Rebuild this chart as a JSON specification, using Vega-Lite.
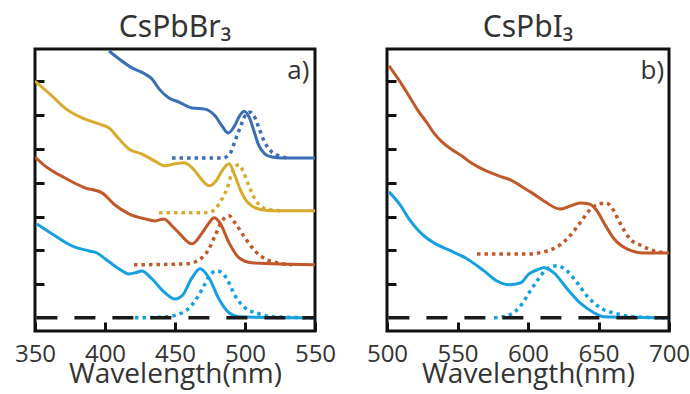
{
  "$schema": "https://vega.github.io/schema/vega-lite/v6.json",
  "padding": {"left": 12, "top": 11, "right": 5, "bottom": 0},
  "background": "white",
  "bounds": "flush",
  "config": {
    "view": {"stroke": "#111", "strokeWidth": 3},
    "font": "Open Sans",
    "title": {"fontSize": 30, "font": "Noto Sans", "fontWeight": "normal", "color": "#333", "offset": 6, "baseline": "alphabetic"},
    "axis": {"grid": false, "domain": false, "tickColor": "#111", "tickWidth": 3, "labelColor": "#333", "titleColor": "#333", "labelFontSize": 24, "titleFontSize": 28, "titleFontWeight": "normal", "labelFont": "Open Sans", "titleFont": "Open Sans", "labelFlush": false, "labelOverlap": false}
  },
  "datasets": {
    "pts": [
      {"p":"a","s":"b1","k":"abs","x":402.9,"y":7.90},{"p":"a","s":"b1","k":"abs","x":419.3,"y":7.40},{"p":"a","s":"b1","k":"abs","x":428.6,"y":7.22},{"p":"a","s":"b1","k":"abs","x":433.6,"y":7.07},{"p":"a","s":"b1","k":"abs","x":438.6,"y":6.78},{"p":"a","s":"b1","k":"abs","x":445.7,"y":6.51},{"p":"a","s":"b1","k":"abs","x":452.9,"y":6.39},{"p":"a","s":"b1","k":"abs","x":462.1,"y":6.21},{"p":"a","s":"b1","k":"abs","x":471.4,"y":6.18},{"p":"a","s":"b1","k":"abs","x":478.6,"y":5.98},{"p":"a","s":"b1","k":"abs","x":483.6,"y":5.68},{"p":"a","s":"b1","k":"abs","x":487.9,"y":5.47},{"p":"a","s":"b1","k":"abs","x":492.9,"y":5.71},{"p":"a","s":"b1","k":"abs","x":495.7,"y":5.95},{"p":"a","s":"b1","k":"abs","x":499.3,"y":6.12},{"p":"a","s":"b1","k":"abs","x":502.9,"y":5.95},{"p":"a","s":"b1","k":"abs","x":506.4,"y":5.53},{"p":"a","s":"b1","k":"abs","x":510.0,"y":5.09},{"p":"a","s":"b1","k":"abs","x":514.3,"y":4.85},{"p":"a","s":"b1","k":"abs","x":519.3,"y":4.76},{"p":"a","s":"b1","k":"abs","x":526.4,"y":4.73},{"p":"a","s":"b1","k":"abs","x":550,"y":4.73},
      {"p":"a","s":"b1","k":"pl","x":447.9,"y":4.73},{"p":"a","s":"b1","k":"pl","x":483.6,"y":4.73},{"p":"a","s":"b1","k":"pl","x":488.6,"y":4.82},{"p":"a","s":"b1","k":"pl","x":492.9,"y":5.24},{"p":"a","s":"b1","k":"pl","x":496.4,"y":5.62},{"p":"a","s":"b1","k":"pl","x":500.0,"y":5.98},{"p":"a","s":"b1","k":"pl","x":503.6,"y":6.09},{"p":"a","s":"b1","k":"pl","x":506.4,"y":5.98},{"p":"a","s":"b1","k":"pl","x":510.0,"y":5.62},{"p":"a","s":"b1","k":"pl","x":513.6,"y":5.24},{"p":"a","s":"b1","k":"pl","x":517.1,"y":5.00},{"p":"a","s":"b1","k":"pl","x":522.9,"y":4.82},{"p":"a","s":"b1","k":"pl","x":531.4,"y":4.73},
      {"p":"a","s":"g","k":"abs","x":350,"y":7.01},{"p":"a","s":"g","k":"abs","x":362.1,"y":6.57},{"p":"a","s":"g","k":"abs","x":371.4,"y":6.21},{"p":"a","s":"g","k":"abs","x":383.6,"y":5.92},{"p":"a","s":"g","k":"abs","x":395.7,"y":5.74},{"p":"a","s":"g","k":"abs","x":402.9,"y":5.62},{"p":"a","s":"g","k":"abs","x":410.0,"y":5.30},{"p":"a","s":"g","k":"abs","x":417.1,"y":5.00},{"p":"a","s":"g","k":"abs","x":426.4,"y":4.85},{"p":"a","s":"g","k":"abs","x":435.7,"y":4.64},{"p":"a","s":"g","k":"abs","x":442.9,"y":4.50},{"p":"a","s":"g","k":"abs","x":450.0,"y":4.56},{"p":"a","s":"g","k":"abs","x":456.4,"y":4.59},{"p":"a","s":"g","k":"abs","x":464.3,"y":4.35},{"p":"a","s":"g","k":"abs","x":469.3,"y":4.08},{"p":"a","s":"g","k":"abs","x":474.3,"y":3.91},{"p":"a","s":"g","k":"abs","x":479.3,"y":4.05},{"p":"a","s":"g","k":"abs","x":483.6,"y":4.35},{"p":"a","s":"g","k":"abs","x":488.6,"y":4.56},{"p":"a","s":"g","k":"abs","x":492.9,"y":4.20},{"p":"a","s":"g","k":"abs","x":496.4,"y":3.82},{"p":"a","s":"g","k":"abs","x":500.0,"y":3.52},{"p":"a","s":"g","k":"abs","x":505.0,"y":3.31},{"p":"a","s":"g","k":"abs","x":512.1,"y":3.20},{"p":"a","s":"g","k":"abs","x":519.3,"y":3.17},{"p":"a","s":"g","k":"abs","x":550,"y":3.17},
      {"p":"a","s":"g","k":"pl","x":438.6,"y":3.11},{"p":"a","s":"g","k":"pl","x":472.9,"y":3.11},{"p":"a","s":"g","k":"pl","x":478.6,"y":3.22},{"p":"a","s":"g","k":"pl","x":483.6,"y":3.52},{"p":"a","s":"g","k":"pl","x":487.1,"y":3.82},{"p":"a","s":"g","k":"pl","x":490.0,"y":4.20},{"p":"a","s":"g","k":"pl","x":492.9,"y":4.47},{"p":"a","s":"g","k":"pl","x":495.7,"y":4.53},{"p":"a","s":"g","k":"pl","x":498.6,"y":4.35},{"p":"a","s":"g","k":"pl","x":501.4,"y":4.05},{"p":"a","s":"g","k":"pl","x":504.3,"y":3.76},{"p":"a","s":"g","k":"pl","x":507.9,"y":3.46},{"p":"a","s":"g","k":"pl","x":512.1,"y":3.28},{"p":"a","s":"g","k":"pl","x":517.9,"y":3.20},{"p":"a","s":"g","k":"pl","x":526.4,"y":3.17},
      {"p":"a","s":"o","k":"abs","x":350,"y":4.76},{"p":"a","s":"o","k":"abs","x":357.1,"y":4.50},{"p":"a","s":"o","k":"abs","x":371.4,"y":4.14},{"p":"a","s":"o","k":"abs","x":385.7,"y":3.85},{"p":"a","s":"o","k":"abs","x":397.9,"y":3.70},{"p":"a","s":"o","k":"abs","x":407.1,"y":3.34},{"p":"a","s":"o","k":"abs","x":417.1,"y":3.08},{"p":"a","s":"o","k":"abs","x":428.6,"y":2.93},{"p":"a","s":"o","k":"abs","x":435.7,"y":2.87},{"p":"a","s":"o","k":"abs","x":442.1,"y":2.93},{"p":"a","s":"o","k":"abs","x":447.9,"y":2.72},{"p":"a","s":"o","k":"abs","x":452.9,"y":2.51},{"p":"a","s":"o","k":"abs","x":462.1,"y":2.19},{"p":"a","s":"o","k":"abs","x":469.3,"y":2.51},{"p":"a","s":"o","k":"abs","x":474.3,"y":2.81},{"p":"a","s":"o","k":"abs","x":477.9,"y":2.96},{"p":"a","s":"o","k":"abs","x":482.1,"y":2.81},{"p":"a","s":"o","k":"abs","x":488.6,"y":2.22},{"p":"a","s":"o","k":"abs","x":495.7,"y":1.78},{"p":"a","s":"o","k":"abs","x":505.0,"y":1.63},{"p":"a","s":"o","k":"abs","x":519.3,"y":1.60},{"p":"a","s":"o","k":"abs","x":550,"y":1.57},
      {"p":"a","s":"o","k":"pl","x":420.7,"y":1.57},{"p":"a","s":"o","k":"pl","x":458.6,"y":1.60},{"p":"a","s":"o","k":"pl","x":469.3,"y":1.78},{"p":"a","s":"o","k":"pl","x":474.3,"y":2.04},{"p":"a","s":"o","k":"pl","x":478.6,"y":2.43},{"p":"a","s":"o","k":"pl","x":483.6,"y":2.87},{"p":"a","s":"o","k":"pl","x":488.6,"y":3.02},{"p":"a","s":"o","k":"pl","x":492.9,"y":2.81},{"p":"a","s":"o","k":"pl","x":500.0,"y":2.37},{"p":"a","s":"o","k":"pl","x":507.1,"y":1.98},{"p":"a","s":"o","k":"pl","x":514.3,"y":1.75},{"p":"a","s":"o","k":"pl","x":522.9,"y":1.63},{"p":"a","s":"o","k":"pl","x":533.6,"y":1.57},
      {"p":"a","s":"c","k":"abs","x":351.4,"y":2.78},{"p":"a","s":"c","k":"abs","x":362.1,"y":2.49},{"p":"a","s":"c","k":"abs","x":376.4,"y":2.13},{"p":"a","s":"c","k":"abs","x":388.6,"y":1.98},{"p":"a","s":"c","k":"abs","x":394.3,"y":1.92},{"p":"a","s":"c","k":"abs","x":400.0,"y":1.75},{"p":"a","s":"c","k":"abs","x":410.0,"y":1.45},{"p":"a","s":"c","k":"abs","x":417.1,"y":1.30},{"p":"a","s":"c","k":"abs","x":421.4,"y":1.33},{"p":"a","s":"c","k":"abs","x":426.4,"y":1.39},{"p":"a","s":"c","k":"abs","x":433.6,"y":1.15},{"p":"a","s":"c","k":"abs","x":442.9,"y":0.74},{"p":"a","s":"c","k":"abs","x":450.0,"y":0.56},{"p":"a","s":"c","k":"abs","x":455.0,"y":0.65},{"p":"a","s":"c","k":"abs","x":462.1,"y":1.18},{"p":"a","s":"c","k":"abs","x":467.9,"y":1.45},{"p":"a","s":"c","k":"abs","x":474.3,"y":1.18},{"p":"a","s":"c","k":"abs","x":481.4,"y":0.56},{"p":"a","s":"c","k":"abs","x":488.6,"y":0.15},{"p":"a","s":"c","k":"abs","x":495.7,"y":0.03},{"p":"a","s":"c","k":"abs","x":550,"y":0},
      {"p":"a","s":"c","k":"pl","x":421.4,"y":0},{"p":"a","s":"c","k":"pl","x":444.3,"y":0.03},{"p":"a","s":"c","k":"pl","x":451.4,"y":0.09},{"p":"a","s":"c","k":"pl","x":458.6,"y":0.24},{"p":"a","s":"c","k":"pl","x":464.3,"y":0.50},{"p":"a","s":"c","k":"pl","x":470.7,"y":0.95},{"p":"a","s":"c","k":"pl","x":475.0,"y":1.27},{"p":"a","s":"c","k":"pl","x":480.0,"y":1.39},{"p":"a","s":"c","k":"pl","x":483.6,"y":1.33},{"p":"a","s":"c","k":"pl","x":487.1,"y":1.15},{"p":"a","s":"c","k":"pl","x":492.9,"y":0.65},{"p":"a","s":"c","k":"pl","x":500.0,"y":0.30},{"p":"a","s":"c","k":"pl","x":510.0,"y":0.12},{"p":"a","s":"c","k":"pl","x":519.3,"y":0.03},{"p":"a","s":"c","k":"pl","x":550,"y":0},
      {"p":"a","s":"k","k":"base","x":351,"y":0},{"p":"a","s":"k","k":"base","x":550,"y":0},
      {"p":"b","s":"o","k":"abs","x":501.4,"y":7.46},{"p":"b","s":"o","k":"abs","x":509.9,"y":6.95},{"p":"b","s":"o","k":"abs","x":515.6,"y":6.57},{"p":"b","s":"o","k":"abs","x":521.3,"y":6.18},{"p":"b","s":"o","k":"abs","x":528.4,"y":5.77},{"p":"b","s":"o","k":"abs","x":533.3,"y":5.47},{"p":"b","s":"o","k":"abs","x":539.0,"y":5.21},{"p":"b","s":"o","k":"abs","x":545.4,"y":5.00},{"p":"b","s":"o","k":"abs","x":553.2,"y":4.79},{"p":"b","s":"o","k":"abs","x":559.6,"y":4.59},{"p":"b","s":"o","k":"abs","x":567.4,"y":4.41},{"p":"b","s":"o","k":"abs","x":573.8,"y":4.29},{"p":"b","s":"o","k":"abs","x":581.6,"y":4.17},{"p":"b","s":"o","k":"abs","x":587.9,"y":4.08},{"p":"b","s":"o","k":"abs","x":595.7,"y":3.88},{"p":"b","s":"o","k":"abs","x":602.8,"y":3.70},{"p":"b","s":"o","k":"abs","x":611.3,"y":3.46},{"p":"b","s":"o","k":"abs","x":622.7,"y":3.22},{"p":"b","s":"o","k":"abs","x":629.8,"y":3.31},{"p":"b","s":"o","k":"abs","x":636.9,"y":3.40},{"p":"b","s":"o","k":"abs","x":643.3,"y":3.37},{"p":"b","s":"o","k":"abs","x":648.9,"y":3.17},{"p":"b","s":"o","k":"abs","x":653.9,"y":2.81},{"p":"b","s":"o","k":"abs","x":661.0,"y":2.34},{"p":"b","s":"o","k":"abs","x":670.2,"y":2.04},{"p":"b","s":"o","k":"abs","x":682.3,"y":1.92},{"p":"b","s":"o","k":"abs","x":700,"y":1.92},
      {"p":"b","s":"o","k":"pl","x":563.8,"y":1.89},{"p":"b","s":"o","k":"pl","x":599.3,"y":1.89},{"p":"b","s":"o","k":"pl","x":613.5,"y":1.98},{"p":"b","s":"o","k":"pl","x":622.7,"y":2.16},{"p":"b","s":"o","k":"pl","x":629.8,"y":2.43},{"p":"b","s":"o","k":"pl","x":636.9,"y":2.81},{"p":"b","s":"o","k":"pl","x":644.0,"y":3.20},{"p":"b","s":"o","k":"pl","x":650.4,"y":3.37},{"p":"b","s":"o","k":"pl","x":655.3,"y":3.40},{"p":"b","s":"o","k":"pl","x":659.6,"y":3.25},{"p":"b","s":"o","k":"pl","x":665.2,"y":2.81},{"p":"b","s":"o","k":"pl","x":672.3,"y":2.34},{"p":"b","s":"o","k":"pl","x":680.9,"y":2.13},{"p":"b","s":"o","k":"pl","x":689.4,"y":1.98},{"p":"b","s":"o","k":"pl","x":698.6,"y":1.92},
      {"p":"b","s":"c","k":"abs","x":501.4,"y":3.73},{"p":"b","s":"c","k":"abs","x":509.9,"y":3.31},{"p":"b","s":"c","k":"abs","x":515.6,"y":2.93},{"p":"b","s":"c","k":"abs","x":521.3,"y":2.63},{"p":"b","s":"c","k":"abs","x":527.0,"y":2.40},{"p":"b","s":"c","k":"abs","x":533.3,"y":2.22},{"p":"b","s":"c","k":"abs","x":545.4,"y":1.98},{"p":"b","s":"c","k":"abs","x":556.7,"y":1.75},{"p":"b","s":"c","k":"abs","x":568.8,"y":1.39},{"p":"b","s":"c","k":"abs","x":578.0,"y":1.09},{"p":"b","s":"c","k":"abs","x":586.5,"y":0.98},{"p":"b","s":"c","k":"abs","x":595.0,"y":1.04},{"p":"b","s":"c","k":"abs","x":600.7,"y":1.30},{"p":"b","s":"c","k":"abs","x":606.4,"y":1.42},{"p":"b","s":"c","k":"abs","x":611.3,"y":1.48},{"p":"b","s":"c","k":"abs","x":618.4,"y":1.33},{"p":"b","s":"c","k":"abs","x":627.7,"y":0.86},{"p":"b","s":"c","k":"abs","x":636.9,"y":0.44},{"p":"b","s":"c","k":"abs","x":646.8,"y":0.15},{"p":"b","s":"c","k":"abs","x":653.9,"y":0.03},{"p":"b","s":"c","k":"abs","x":700,"y":0},
      {"p":"b","s":"c","k":"pl","x":575.9,"y":0},{"p":"b","s":"c","k":"pl","x":585.1,"y":0.06},{"p":"b","s":"c","k":"pl","x":591.5,"y":0.21},{"p":"b","s":"c","k":"pl","x":595.7,"y":0.41},{"p":"b","s":"c","k":"pl","x":600.7,"y":0.74},{"p":"b","s":"c","k":"pl","x":606.4,"y":1.09},{"p":"b","s":"c","k":"pl","x":613.5,"y":1.45},{"p":"b","s":"c","k":"pl","x":620.6,"y":1.54},{"p":"b","s":"c","k":"pl","x":627.7,"y":1.39},{"p":"b","s":"c","k":"pl","x":634.8,"y":1.04},{"p":"b","s":"c","k":"pl","x":641.8,"y":0.65},{"p":"b","s":"c","k":"pl","x":651.1,"y":0.30},{"p":"b","s":"c","k":"pl","x":663.1,"y":0.12},{"p":"b","s":"c","k":"pl","x":675.2,"y":0.03},{"p":"b","s":"c","k":"pl","x":700,"y":0},
      {"p":"b","s":"k","k":"base","x":501,"y":0},{"p":"b","s":"k","k":"base","x":700,"y":0}
    ]
  },
  "spacing": 72,
  "hconcat": [
    {
      "title": "CsPbBr₃",
      "width": 280, "height": 282,
      "encoding": {
        "x": {"field": "x", "type": "quantitative", "scale": {"domain": [350, 550], "nice": false}, "axis": {"values": [350, 400, 450, 500, 550], "tickSize": -9, "labelPadding": 20, "title": "Wavelength(nm)", "titlePadding": -6}},
        "y": {"field": "y", "type": "quantitative", "scale": {"domain": [-0.39, 7.96], "nice": false, "zero": false}, "axis": {"values": [1, 2, 3, 4, 5, 6, 7], "labels": false, "title": null, "tickSize": -9, "minExtent": 0, "maxExtent": 0}}
      },
      "layer": [
        {
          "data": {"name": "pts"},
          "transform": [{"filter": "datum.p === 'a'"}],
          "encoding": {"color": {"field": "s", "type": "nominal", "legend": null, "scale": {"domain": ["b1", "g", "o", "c", "k"], "range": ["#3b6db6", "#d8ab2e", "#c0582a", "#16a0e0", "#1a1a1a"]}}},
          "layer": [
            {"transform": [{"filter": "datum.k === 'abs'"}], "mark": {"type": "line", "strokeWidth": 3, "interpolate": "monotone", "clip": true}},
            {"transform": [{"filter": "datum.k === 'pl'"}], "mark": {"type": "line", "strokeWidth": 3.5, "strokeDash": [3.5, 4], "interpolate": "monotone", "clip": true}},
            {"transform": [{"filter": "datum.k === 'base'"}], "mark": {"type": "line", "strokeWidth": 3.5, "strokeDash": [21, 17], "clip": true}}
          ]
        },
        {
          "data": {"values": [{"t": "a)", "x": 546, "y": 7.08}]},
          "mark": {"type": "text", "fontSize": 26, "align": "right", "baseline": "alphabetic", "color": "#333", "font": "Open Sans"},
          "encoding": {"text": {"field": "t"}}
        }
      ]
    },
    {
      "title": "CsPbI₃",
      "width": 282, "height": 282,
      "encoding": {
        "x": {"field": "x", "type": "quantitative", "scale": {"domain": [500, 700], "nice": false}, "axis": {"values": [500, 550, 600, 650, 700], "tickSize": -9, "labelPadding": 20, "title": "Wavelength(nm)", "titlePadding": -6}},
        "y": {"field": "y", "type": "quantitative", "scale": {"domain": [-0.39, 7.96], "nice": false, "zero": false}, "axis": {"values": [1, 2, 3, 4, 5, 6, 7], "labels": false, "title": null, "tickSize": -9, "minExtent": 0, "maxExtent": 0}}
      },
      "layer": [
        {
          "data": {"name": "pts"},
          "transform": [{"filter": "datum.p === 'b'"}],
          "encoding": {"color": {"field": "s", "type": "nominal", "legend": null, "scale": {"domain": ["b1", "g", "o", "c", "k"], "range": ["#3b6db6", "#d8ab2e", "#c0582a", "#16a0e0", "#1a1a1a"]}}},
          "layer": [
            {"transform": [{"filter": "datum.k === 'abs'"}], "mark": {"type": "line", "strokeWidth": 3, "interpolate": "monotone", "clip": true}},
            {"transform": [{"filter": "datum.k === 'pl'"}], "mark": {"type": "line", "strokeWidth": 3.5, "strokeDash": [3.5, 4], "interpolate": "monotone", "clip": true}},
            {"transform": [{"filter": "datum.k === 'base'"}], "mark": {"type": "line", "strokeWidth": 3.5, "strokeDash": [21, 17], "clip": true}}
          ]
        },
        {
          "data": {"values": [{"t": "b)", "x": 696.5, "y": 7.08}]},
          "mark": {"type": "text", "fontSize": 26, "align": "right", "baseline": "alphabetic", "color": "#333", "font": "Open Sans"},
          "encoding": {"text": {"field": "t"}}
        }
      ]
    }
  ]
}
